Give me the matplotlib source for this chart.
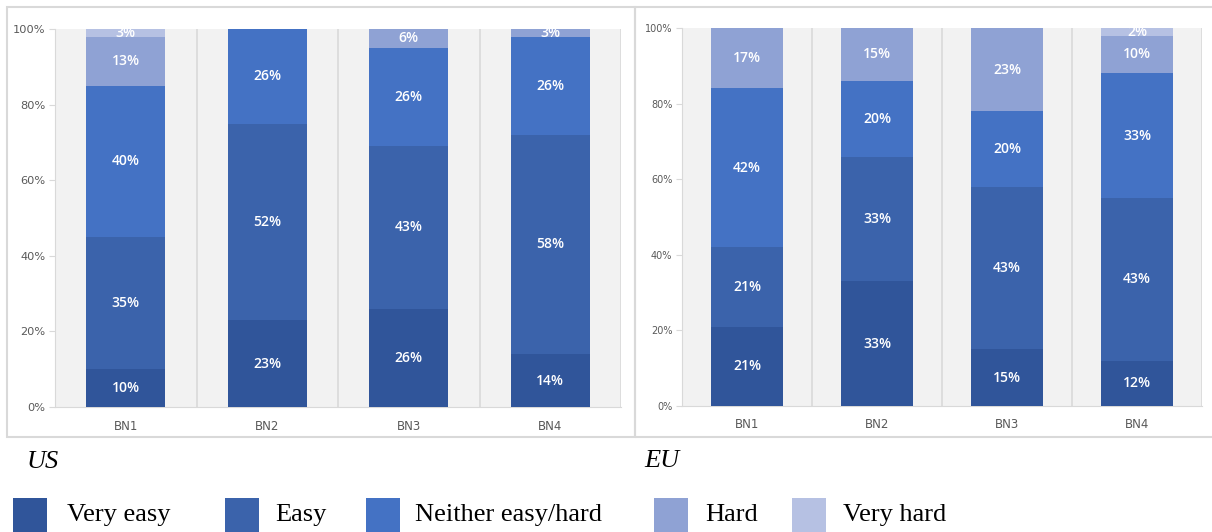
import matplotlib
matplotlib.use("Agg")
import matplotlib.pyplot as plt
from matplotlib.patches import Rectangle
import numpy as np

categories = ["BN1", "BN2", "BN3", "BN4"]
levels = ["Very easy", "Easy", "Neither easy/hard", "Hard", "Very hard"]
colors = ["#30559a", "#3b63ab", "#4472c4", "#8fa2d4", "#b6c1e3"]

# percentages per level, one list per category order BN1..BN4
us_very_easy = [10, 23, 26, 14]
us_easy = [35, 52, 43, 58]
us_neither = [40, 26, 26, 26]
us_hard = [13, 0, 6, 3]
us_very_hard = [3, 0, 0, 0]

eu_very_easy = [21, 33, 15, 12]
eu_easy = [21, 33, 43, 43]
eu_neither = [42, 20, 20, 33]
eu_hard = [17, 15, 23, 10]
eu_very_hard = [0, 0, 0, 2]

yticks = [0, 20, 40, 60, 80, 100]

W, H = 1212, 532
fig = plt.figure(figsize=(W / 100, H / 100), dpi=100)
fig.patch.set_facecolor("white")

grid_col = "#d9d9d9"
text_col = "#595959"


def fx(px):
    return px / W


def fy(py):
    return 1 - py / H


def draw_panel(rect, series, tick_size, bar_width):
    ax = fig.add_axes(rect)
    ax.set_facecolor("#f2f2f2")
    x = np.arange(len(categories))
    bottom = np.zeros(len(categories))
    for vals, col in zip(series, colors):
        vals = np.array(vals, dtype=float)
        ax.bar(x, vals, bottom=bottom, width=bar_width, color=col,
               edgecolor="none", zorder=3)
        for xi, b, v in zip(x, bottom, vals):
            if v > 0:
                top = min(b + v, 100)
                ax.text(xi, (b + top) / 2, f"{int(v)}%", ha="center",
                        va="center", color="white", fontsize=10,
                        family="Open Sans", fontweight="semibold",
                        zorder=4, clip_on=True)
        bottom = bottom + vals
    ax.set_xlim(-0.5, len(categories) - 0.5)
    ax.set_ylim(0, 100)
    for b in np.arange(len(categories) + 1) - 0.5:
        ax.axvline(b, color=grid_col, lw=1.2, zorder=1)
    for s in ["top", "right"]:
        ax.spines[s].set_visible(False)
    ax.spines["left"].set_color(grid_col)
    ax.spines["bottom"].set_color(grid_col)
    ax.set_yticks(yticks)
    ax.set_yticklabels([f"{t}%" for t in yticks])
    ax.tick_params(axis="y", colors=grid_col, labelcolor=text_col,
                   labelsize=tick_size, length=4, pad=3)
    ax.set_xticks(x)
    ax.set_xticklabels(categories)
    ax.tick_params(axis="x", length=0, labelcolor=text_col, labelsize=8.5,
                   pad=9)
    return ax


us_series = [us_very_easy, us_easy, us_neither, us_hard, us_very_hard]
eu_series = [eu_very_easy, eu_easy, eu_neither, eu_hard, eu_very_hard]

draw_panel([fx(55), fy(407), fx(621 - 55), (407 - 29) / H], us_series, 8.2, 0.56)
draw_panel([fx(682), fy(406), fx(1202 - 682), (406 - 28) / H], eu_series, 7.0, 0.555)

# chart frames
fig.patches.append(Rectangle((fx(7), fy(437)), fx(635 - 7), (437 - 7) / H,
                             transform=fig.transFigure, fill=False,
                             edgecolor=grid_col, lw=1.5))
fig.patches.append(Rectangle((fx(635), fy(437)), fx(1215 - 635), (437 - 7) / H,
                             transform=fig.transFigure, fill=False,
                             edgecolor=grid_col, lw=1.5))

serif = "Liberation Serif"
fig.text(fx(27), fy(462), "US", family=serif, style="italic", fontsize=19,
         va="center", ha="left", color="black")
fig.text(fx(644), fy(461), "EU", family=serif, style="italic", fontsize=19,
         va="center", ha="left", color="black")

# legend
legend_sq = [13, 225, 366, 654, 792]
legend_tx = [67, 275, 415, 705, 843]
for sx, tx, lab, col in zip(legend_sq, legend_tx, levels, colors):
    fig.patches.append(Rectangle((fx(sx), fy(533)), fx(34), 35 / H,
                                 transform=fig.transFigure, facecolor=col,
                                 edgecolor="none"))
    fig.text(fx(tx), fy(515), lab, family=serif, fontsize=19, va="center",
             ha="left", color="black")

fig.savefig("out.png", dpi=100)
